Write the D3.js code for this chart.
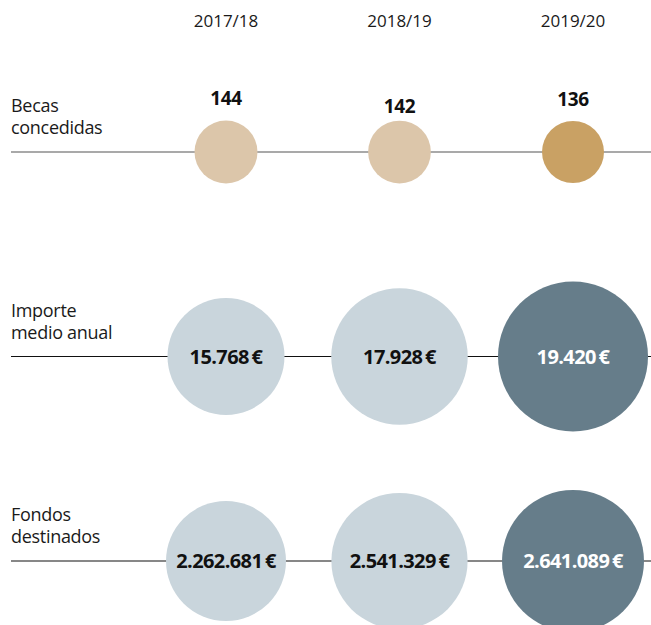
<!DOCTYPE html>
<html>
<head>
<meta charset="utf-8">
<script src="https://cdn.jsdelivr.net/npm/d3@7"></script>
<style>
  body { margin: 0; background: #fff; }
  svg { display: block; font-family: "Open Sans", sans-serif; }
</style>
</head>
<body>
<svg></svg>
<script>
const years = ["2017/18", "2018/19", "2019/20"];
const rowNames = ["becas", "importe", "fondos"];
const rowLabels = [["Becas", "concedidas"], ["Importe", "medio anual"], ["Fondos", "destinados"]];
const becas = [144, 142, 136];
const importe = [15768, 17928, 19420];
const fondos = [2262681, 2541329, 2641089];

const width = 651;
const height = 625;

let svg = d3.select("svg")
    .attr("width", width)
    .attr("height", height);

const es = d3.formatLocale({decimal: ",", thousands: ".", grouping: [3], currency: ["", " €"]});
const fmtNum = es.format(",");
const fmtEur = d => es.format(",")(d) + "\u2009€";

let scaleX = d3.scalePoint().domain(years).range([226, 573]);
let scaleRow = d3.scalePoint().domain(rowNames).range([152, 561]);

// radius scales (not area-proportional)
let rows = [
    {key: "becas", values: becas, fmt: fmtNum, lineColor: "#555",
     r: d3.scaleLinear().domain([136, 144]).range([31, 31.5]),
     light: "#dcc6aa", dark: "#c9a164"},
    {key: "importe", values: importe, fmt: fmtEur, lineColor: "#111",
     r: d3.scaleLinear().domain([15768, 19420]).range([58.5, 75]),
     light: "#c9d5dc", dark: "#667d8a"},
    {key: "fondos", values: fondos, fmt: fmtEur, lineColor: "#111",
     r: d3.scaleLinear().domain([2262681, 2641089]).range([60, 71]),
     light: "#c9d5dc", dark: "#667d8a"}
];

// year headers
svg.selectAll(".year")
    .data(years)
    .enter()
    .append("text")
    .attr("x", d => scaleX(d))
    .attr("y", 27)
    .attr("text-anchor", "middle")
    .style("font-size", "17px")
    .style("fill", "#1a1a1a")
    .text(d => d);

rows.forEach((row, i) => {
    let cy = scaleRow(row.key);
    let g = svg.append("g");

    g.append("line")
        .attr("x1", 11)
        .attr("x2", width)
        .attr("y1", cy)
        .attr("y2", cy)
        .style("stroke", row.lineColor)
        .style("stroke-width", 1.2);

    g.append("text")
        .attr("x", 11)
        .attr("y", cy - 40)
        .style("font-size", "18px")
        .style("letter-spacing", "-0.3px")
        .style("fill", "#1a1a1a")
        .selectAll("tspan")
        .data(rowLabels[i])
        .enter()
        .append("tspan")
        .attr("x", 11)
        .attr("dy", (d, j) => j == 0 ? 0 : 22)
        .text(d => d);

    let items = row.values.map((v, j) => ({year: years[j], value: v, last: j == years.length - 1}));

    g.selectAll("circle")
        .data(items)
        .enter()
        .append("circle")
        .attr("cx", d => scaleX(d.year))
        .attr("cy", cy)
        .attr("r", d => row.r(d.value))
        .style("fill", d => d.last ? row.dark : row.light);

    if (row.key == "becas") {
        let labelDy = [0, 8, 1];
        g.selectAll(".val")
            .data(items)
            .enter()
            .append("text")
            .attr("x", d => scaleX(d.year))
            .attr("y", (d, j) => cy - 47 + labelDy[j])
            .attr("text-anchor", "middle")
            .style("font-size", "19px")
            .style("font-weight", "bold")
            .style("letter-spacing", "-0.3px")
            .style("fill", "#111")
            .text(d => row.fmt(d.value));
    } else {
        g.selectAll(".val")
            .data(items)
            .enter()
            .append("text")
            .attr("x", d => scaleX(d.year))
            .attr("y", cy)
            .attr("dy", "0.36em")
            .attr("text-anchor", "middle")
            .style("font-size", "20px")
            .style("font-weight", "bold")
            .style("letter-spacing", "-0.6px")
            .style("fill", d => d.last ? "#fff" : "#111")
            .text(d => row.fmt(d.value));
    }
});
</script>
</body>
</html>
